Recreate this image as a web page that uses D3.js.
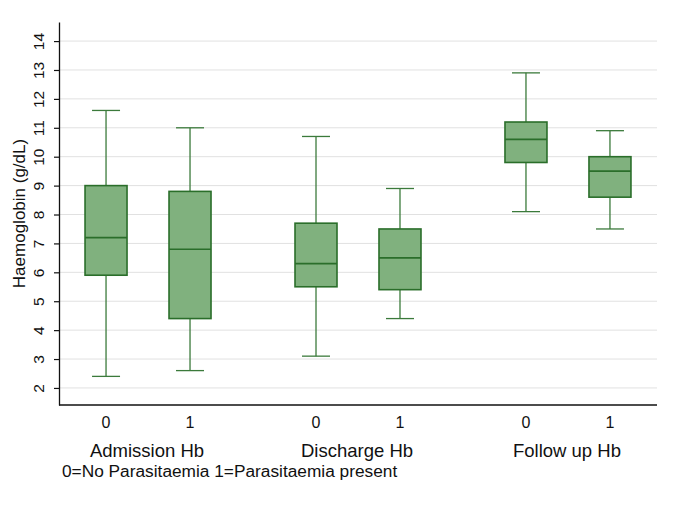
<!DOCTYPE html>
<html><head><meta charset="utf-8">
<script src="https://cdn.jsdelivr.net/npm/d3@7"></script>
<style>body{margin:0;background:#fff;} svg{display:block;font-family:"Liberation Sans",Arial,sans-serif;}</style>
</head><body>
<svg id="c" width="685" height="505"></svg>
<script>
const groups = ["Admission Hb", "Discharge Hb", "Follow up Hb"];
const subgroups = ["0", "1"];
const whiskerLow  = [[2.4, 2.6], [3.1, 4.4], [8.1, 7.5]];
const q1          = [[5.9, 4.4], [5.5, 5.4], [9.8, 8.6]];
const median      = [[7.2, 6.8], [6.3, 6.5], [10.6, 9.5]];
const q3          = [[9.0, 8.8], [7.7, 7.5], [11.2, 10.0]];
const whiskerHigh = [[11.6, 11.0], [10.7, 8.9], [12.9, 10.9]];
const yTicks = [2,3,4,5,6,7,8,9,10,11,12,13,14];
const yLabel = "Haemoglobin (g/dL)";
const note = "0=No Parasitaemia 1=Parasitaemia present";

const svg = d3.select("#c");
const L = 59, R = 657, T = 22, B = 405;
const y = d3.scaleLinear().domain([1.41, 14.66]).range([B, T]);
const xg = d3.scaleBand().domain(groups).range([L, R]).paddingInner(0.4).paddingOuter(0.124);
const xs = d3.scaleBand().domain(subgroups).range([0, xg.bandwidth()]).paddingInner(0.5).paddingOuter(0);

// gridlines
svg.append("g").selectAll("line").data(yTicks).join("line")
  .attr("x1", L).attr("x2", R).attr("y1", d => y(d)).attr("y2", d => y(d))
  .attr("stroke", "#e1e1e1").attr("stroke-width", 1);

// y axis
const ya = svg.append("g").attr("transform", `translate(${L},0)`)
  .call(d3.axisLeft(y).tickValues(yTicks).tickSize(5).tickSizeOuter(0).tickPadding(0));
ya.select(".domain").attr("stroke", "#111").attr("stroke-width", 1.3);
ya.selectAll(".tick line").attr("stroke", "#111").attr("stroke-width", 1.2);
ya.selectAll(".tick text").attr("transform", "translate(-15,0) rotate(-90)")
  .attr("text-anchor", "middle").attr("dy", "0").attr("x", 0).attr("y", 0)
  .attr("font-size", 15.5).attr("fill", "#111");

// x axis line
svg.append("line").attr("x1", L).attr("x2", R).attr("y1", B).attr("y2", B)
  .attr("stroke", "#111").attr("stroke-width", 1.3);

// boxes
const data = [];
groups.forEach((g, i) => subgroups.forEach((s, j) => data.push({
  g, s, lo: whiskerLow[i][j], q1: q1[i][j], med: median[i][j], q3: q3[i][j], hi: whiskerHigh[i][j]
})));
const bw = xs.bandwidth();
const stroke = "#2a6e2a";
const bx = svg.append("g").selectAll("g").data(data).join("g")
  .attr("transform", d => `translate(${xg(d.g) + xs(d.s)},0)`);
bx.append("line").attr("x1", bw/2).attr("x2", bw/2).attr("y1", d => y(d.hi)).attr("y2", d => y(d.q3))
  .attr("stroke", "#3b7a3b").attr("stroke-width", 1.3);
bx.append("line").attr("x1", bw/2).attr("x2", bw/2).attr("y1", d => y(d.q1)).attr("y2", d => y(d.lo))
  .attr("stroke", "#3b7a3b").attr("stroke-width", 1.3);
bx.append("line").attr("x1", bw/2 - 14).attr("x2", bw/2 + 14).attr("y1", d => y(d.hi)).attr("y2", d => y(d.hi))
  .attr("stroke", "#3b7a3b").attr("stroke-width", 1.3);
bx.append("line").attr("x1", bw/2 - 14).attr("x2", bw/2 + 14).attr("y1", d => y(d.lo)).attr("y2", d => y(d.lo))
  .attr("stroke", "#3b7a3b").attr("stroke-width", 1.3);
bx.append("rect").attr("x", 0).attr("width", bw).attr("y", d => y(d.q3)).attr("height", d => y(d.q1) - y(d.q3))
  .attr("fill", "#80b17e").attr("stroke", stroke).attr("stroke-width", 1.6);
bx.append("line").attr("x1", 0).attr("x2", bw).attr("y1", d => y(d.med)).attr("y2", d => y(d.med))
  .attr("stroke", stroke).attr("stroke-width", 1.6);

// x labels
bx.append("text").attr("x", bw/2).attr("y", 428).attr("text-anchor", "middle")
  .attr("font-size", 16).attr("fill", "#111").text(d => d.s);
svg.append("g").selectAll("text").data(groups).join("text")
  .attr("x", d => xg(d) + xg.bandwidth()/2 - 1).attr("y", 457).attr("text-anchor", "middle")
  .attr("font-size", 18.5).attr("fill", "#111").text(d => d);

// y label
svg.append("text").attr("transform", `translate(25,${(T+B)/2}) rotate(-90)`).attr("text-anchor", "middle")
  .attr("font-size", 17).attr("fill", "#111").text(yLabel);

// note
svg.append("text").attr("x", 62).attr("y", 477).attr("font-size", 17.3).attr("fill", "#111").text(note);
</script>
</body></html>
